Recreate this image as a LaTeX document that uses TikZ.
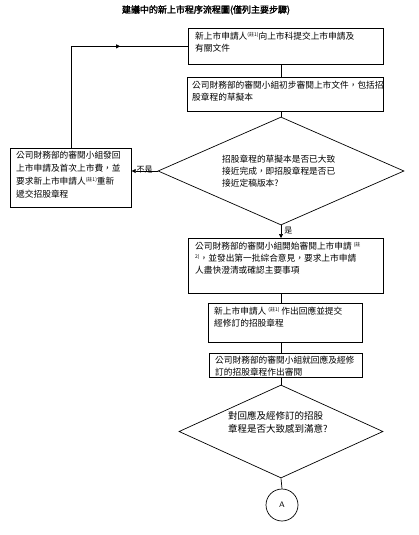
\documentclass[tikz,border=0pt]{standalone}
\usepackage{fontspec}
\newfontfamily\cjk[AutoFakeBold=2]{Noto Sans CJK TC}
\usetikzlibrary{arrows.meta,shapes.geometric,decorations.markings}
\newcommand\zhu[1]{\raisebox{3pt}{\fontsize{5}{5}\selectfont #1}}
\begin{document}
\begin{tikzpicture}[x=1pt,y=-1pt,
  box/.style={draw, line width=0.7pt, inner sep=0, anchor=north west},
  txt/.style={anchor=north west, inner sep=0, align=left, font=\cjk\fontsize{8.7}{12}\selectfont},
  dia/.style={draw, diamond, line width=0.7pt, inner sep=0},
  conn/.style={line width=0.7pt},
  tip/.style={-{Triangle[length=4pt,width=4pt]}},
  lab/.style={inner sep=0, font=\cjk\fontsize{8}{8}\selectfont}]
\useasboundingbox (0,0) rectangle (419,535);

\node[font=\cjk\bfseries\fontsize{9}{9}\selectfont, inner sep=0] (title) at (206,10) {建議中的新上市程序流程圖(僅列主要步驟)};

% boxes
\node[box, minimum width=195pt, minimum height=36pt] (b1) at (188,28) {};
\node[txt] (t1) at (195,32) {新上市申請人\zhu{(註1)}向上市科提交上市申請及\\有關文件};

\node[box, minimum width=196pt, minimum height=34pt] (b2) at (187,77) {};
\node[txt] (t2) at (192,81) {公司財務部的審閱小組初步審閱上市文件，包括招\\股章程的草擬本};

\node[dia, minimum width=246pt, minimum height=108pt] (d1) at (281,171) {};
\node[txt] (td1) at (222,155) {招股章程的草擬本是否已大致\\接近完成，即招股章程是否已\\接近定稿版本?};

\node[box, minimum width=121pt, minimum height=59pt] (lb) at (10,148) {};
\node[txt, font=\cjk\fontsize{8.7}{13}\selectfont] (tl) at (16,151) {公司財務部的審閱小組發回\\上市申請及首次上市費，並\\要求新上市申請人\zhu{(註1)}重新\\遞交招股章程};

\node[box, minimum width=195pt, minimum height=55pt] (b3) at (188,238) {};
\node[txt] (t3) at (195,242) {公司財務部的審閱小組開始審閱上市申請 \zhu{(註}\\\zhu{2)}，並發出第一批綜合意見，要求上市申請\\人盡快澄清或確認主要事項};

\node[box, minimum width=154pt, minimum height=39pt] (b4) at (208,303) {};
\node[txt] (t4) at (214,307) {新上市申請人 \zhu{(註1)} 作出回應並提交\\經修訂的招股章程};

\node[box, minimum width=153pt, minimum height=24pt] (b5) at (209,353) {};
\node[txt] (t5) at (215,356) {公司財務部的審閱小組就回應及經修\\訂的招股章程作出審閱};

\node[dia, minimum width=204pt, minimum height=93pt] (d2) at (281,431.5) {};
\node[txt, font=\cjk\fontsize{9.5}{13}\selectfont] (td2) at (228,411) {對回應及經修訂的招股\\章程是否大致感到滿意?};

\node[draw, circle, line width=0.7pt, minimum size=32pt, inner sep=0, font=\sffamily\fontsize{8}{8}\selectfont] (ca) at (282,505) {A};

% connectors
\draw[conn] (b1.south -| d1.north) -- (b2.north -| d1.north);
\draw[conn] (b2.south -| d1.north) -- (d1.north);
\draw[conn, tip] (d1.west) -- (lb.east |- d1.west) node[lab, midway, above=-2pt] {不是};
\draw[conn, postaction={decorate}, decoration={markings, mark=at position 0.69 with {\arrow{Triangle[length=4pt,width=4pt]}}}] (lb.north) |- (b1.west);
\draw[conn, tip] (d1.south) -- (b3.north -| d1.south) node[lab, pos=0.4, right=3pt] {是};
\draw[conn] (b3.south -| d1.south) -- (b4.north -| d1.south);
\draw[conn] (b4.south -| d1.south) -- (b5.north -| d1.south);
\draw[conn] (b5.south -| d2.north) -- (d2.north);
\draw[conn] (d2.south) -- (ca.north);
\end{tikzpicture}
\end{document}
